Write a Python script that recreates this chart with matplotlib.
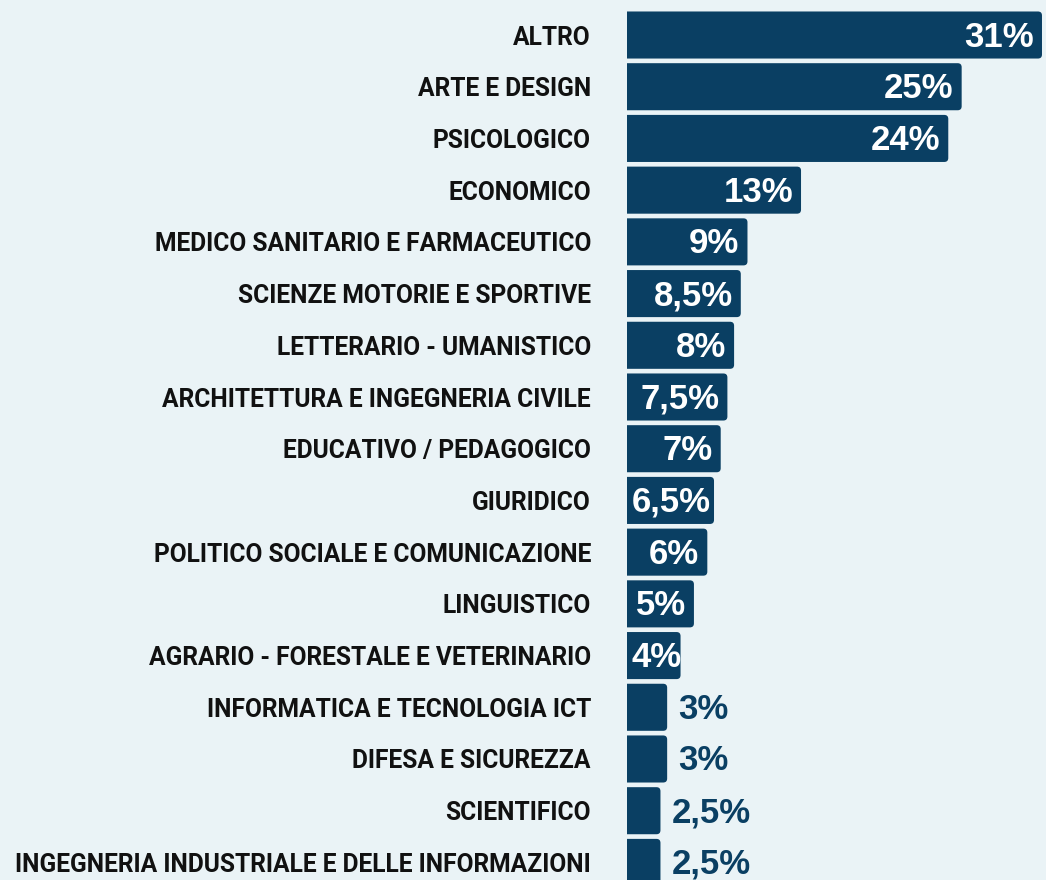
import matplotlib.pyplot as plt
from matplotlib.patches import FancyBboxPatch

categorie = [
    'ALTRO',
    'ARTE E DESIGN',
    'PSICOLOGICO',
    'ECONOMICO',
    'MEDICO SANITARIO E FARMACEUTICO',
    'SCIENZE MOTORIE E SPORTIVE',
    'LETTERARIO - UMANISTICO',
    'ARCHITETTURA E INGEGNERIA CIVILE',
    'EDUCATIVO / PEDAGOGICO',
    'GIURIDICO',
    'POLITICO SOCIALE E COMUNICAZIONE',
    'LINGUISTICO',
    'AGRARIO - FORESTALE E VETERINARIO',
    'INFORMATICA E TECNOLOGIA ICT',
    'DIFESA E SICUREZZA',
    'SCIENTIFICO',
    'INGEGNERIA INDUSTRIALE E DELLE INFORMAZIONI',
]
percentuali = [31, 25, 24, 13, 9, 8.5, 8, 7.5, 7, 6.5, 6, 5, 4, 3, 3, 2.5, 2.5]

sfondo = '#eaf3f6'
blu = '#0a3f63'

fig = plt.figure(figsize=(10.46, 8.80), dpi=100, facecolor=sfondo)
ax = fig.add_axes([627 / 1046, 0, 1 - 627 / 1046, 1])
ax.set_facecolor(sfondo)

xmax = 31.3
ax.set_xlim(0, xmax)
ax.set_ylim(16.34, -0.677)

# bars with slightly rounded corners (left side hidden past x=0)
px_x = (1046 - 627) / xmax
px_y = 880 / (16.34 + 0.677)
h = 0.91
r = 4 / px_x
rend = fig.canvas.get_renderer()
for i, v in enumerate(percentuali):
    bar = FancyBboxPatch((-1, i - h / 2), v + 1, h,
                         boxstyle=f'round,pad=0,rounding_size={r}',
                         mutation_aspect=px_x / px_y,
                         facecolor=blu, edgecolor='none')
    ax.add_patch(bar)

    testo = f'{v:g}%'.replace('.', ',')
    if v >= 4:
        t = ax.annotate(testo, (v, i), xytext=(-8, -2), textcoords='offset pixels',
                        ha='right', va='center', color='white', fontsize=25,
                        fontweight='bold', family='Liberation Sans')
        # keep the label from running past the left edge of the bar
        larg = t.get_window_extent(rend).width
        if v * px_x - 8 - larg < 5:
            t.xy = (0, i)
            t.xyann = (5, -2)
            t.set_ha('left')
    else:
        ax.annotate(testo, (v, i), xytext=(11, -2), textcoords='offset pixels',
                    ha='left', va='center', color=blu, fontsize=25,
                    fontweight='bold', family='Liberation Sans')

ax.set_yticks(range(len(categorie)))
ax.set_yticklabels(categorie, family='Roboto', fontweight='bold',
                   fontsize=17.7, color='#111111')
ax.tick_params(axis='y', length=0, pad=26)
ax.set_xticks([])
for s in ax.spines.values():
    s.set_visible(False)

fig.savefig('out.png', dpi=100, facecolor=sfondo)
